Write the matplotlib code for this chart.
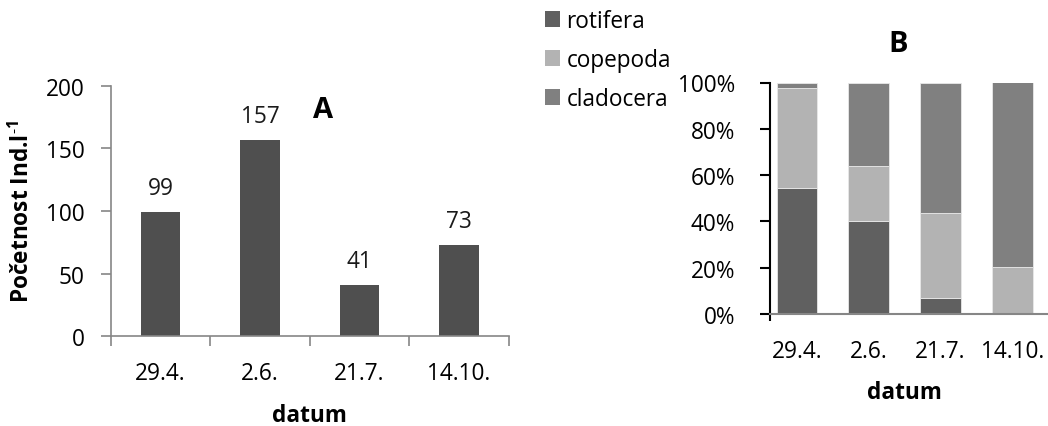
import matplotlib
matplotlib.use("Agg")
import matplotlib.pyplot as plt
from matplotlib.patches import Patch

plt.rcParams['font.family'] = ['Open Sans', 'DejaVu Sans']
plt.rcParams['mathtext.default'] = 'regular'

# chart A data
dates = ['29.4.', '2.6.', '21.7.', '14.10.']
counts = [99, 157, 41, 73]

# chart B data (percent of total)
rotifera = [54.3, 40.3, 6.8, 0.0]
copepoda = [43.5, 23.8, 36.8, 20.3]
cladocera = [2.2, 35.9, 56.4, 79.7]
groups = ['rotifera', 'copepoda', 'cladocera']
group_colors = ['#606060', '#b3b3b3', '#808080']

W, H = 1048, 427
fig = plt.figure(figsize=(W / 100, H / 100), dpi=100)

axis_gray = '#868686'
fs = 16.3

# ---- chart A ----
axA = fig.add_axes([110.7 / W, 89.7 / H, 398 / W, 250.6 / H])
x = list(range(len(dates)))
axA.bar(x, counts, width=0.4, color='#4f4f4f')
for xi, v in zip(x, counts):
    axA.annotate(str(v), (xi, v), xytext=(0, 13), textcoords='offset points',
                 ha='center', va='baseline', fontsize=fs, color='#1a1a1a')
axA.set_xlim(-0.5, 3.5)
axA.set_ylim(0, 200)
axA.set_yticks([0, 50, 100, 150, 200])
axA.set_xticks(x)
axA.set_xticklabels(dates)
axA.set_xticks([-0.5, 0.5, 1.5, 2.5, 3.5], minor=True)
axA.tick_params(axis='x', which='major', length=0, pad=18, labelsize=fs)
axA.tick_params(axis='x', which='minor', length=7, width=1.2, color=axis_gray, direction='out')
axA.tick_params(axis='y', length=7, width=1.2, color=axis_gray, pad=12, labelsize=fs)
for s in ['top', 'right']:
    axA.spines[s].set_visible(False)
for s in ['left', 'bottom']:
    axA.spines[s].set_color(axis_gray)
    axA.spines[s].set_linewidth(1.2)
fig.text(323 / W, 1 - 111 / H, 'A', fontsize=21, fontweight='bold', ha='center', va='center')
fig.text(309 / W, 1 - 422 / H, 'datum', fontsize=fs, fontweight='bold', ha='center', va='baseline')
fig.text(22 / W, 1 - 211 / H, 'Početnost Ind.l$^{\u20101}$', fontsize=fs, fontweight='bold',
         rotation=90, ha='center', va='center')

# ---- chart B ----
axB = fig.add_axes([770 / W, 112 / H, 278 / W, 231.5 / H])
bottom = [0.0] * len(dates)
for name, vals, col in zip(groups, [rotifera, copepoda, cladocera], group_colors):
    axB.bar(x, vals, width=0.57, bottom=bottom, color=col, edgecolor='#e8e8e8', linewidth=0.6,
            label=name)
    bottom = [b + v for b, v in zip(bottom, vals)]
axB.set_xlim(-0.377, 3.5)
axB.set_ylim(0, 100)
axB.set_yticks([0, 20, 40, 60, 80, 100])
axB.set_yticklabels([f'{v}%' for v in [0, 20, 40, 60, 80, 100]])
axB.set_xticks(x)
axB.set_xticklabels(dates)
axB.set_xticks([-0.377], minor=True)
axB.tick_params(axis='x', which='major', length=0, pad=18, labelsize=fs)
axB.tick_params(axis='x', which='minor', length=5, width=1.5, color='black', direction='out')
axB.tick_params(axis='y', length=7, width=1.5, color='black', pad=18, labelsize=fs)
for s in ['top', 'right']:
    axB.spines[s].set_visible(False)
axB.spines['left'].set_color('black')
axB.spines['left'].set_linewidth(1.5)
axB.spines['bottom'].set_color(axis_gray)
axB.spines['bottom'].set_linewidth(1.5)
fig.text(898 / W, 1 - 45 / H, 'B', fontsize=21, fontweight='bold', ha='center', va='center')
fig.text(904 / W, 1 - 399 / H, 'datum', fontsize=fs, fontweight='bold', ha='center', va='baseline')

handles = [Patch(facecolor=c, edgecolor='none') for c in group_colors]
fig.legend(handles, groups, loc='upper left', bbox_to_anchor=(545 / W, 1 - 10 / H),
           frameon=False, fontsize=fs, handlelength=0.68, handleheight=0.68,
           handletextpad=0.26, labelspacing=0.66, borderpad=0, borderaxespad=0)

fig.savefig('out.png', dpi=100)
